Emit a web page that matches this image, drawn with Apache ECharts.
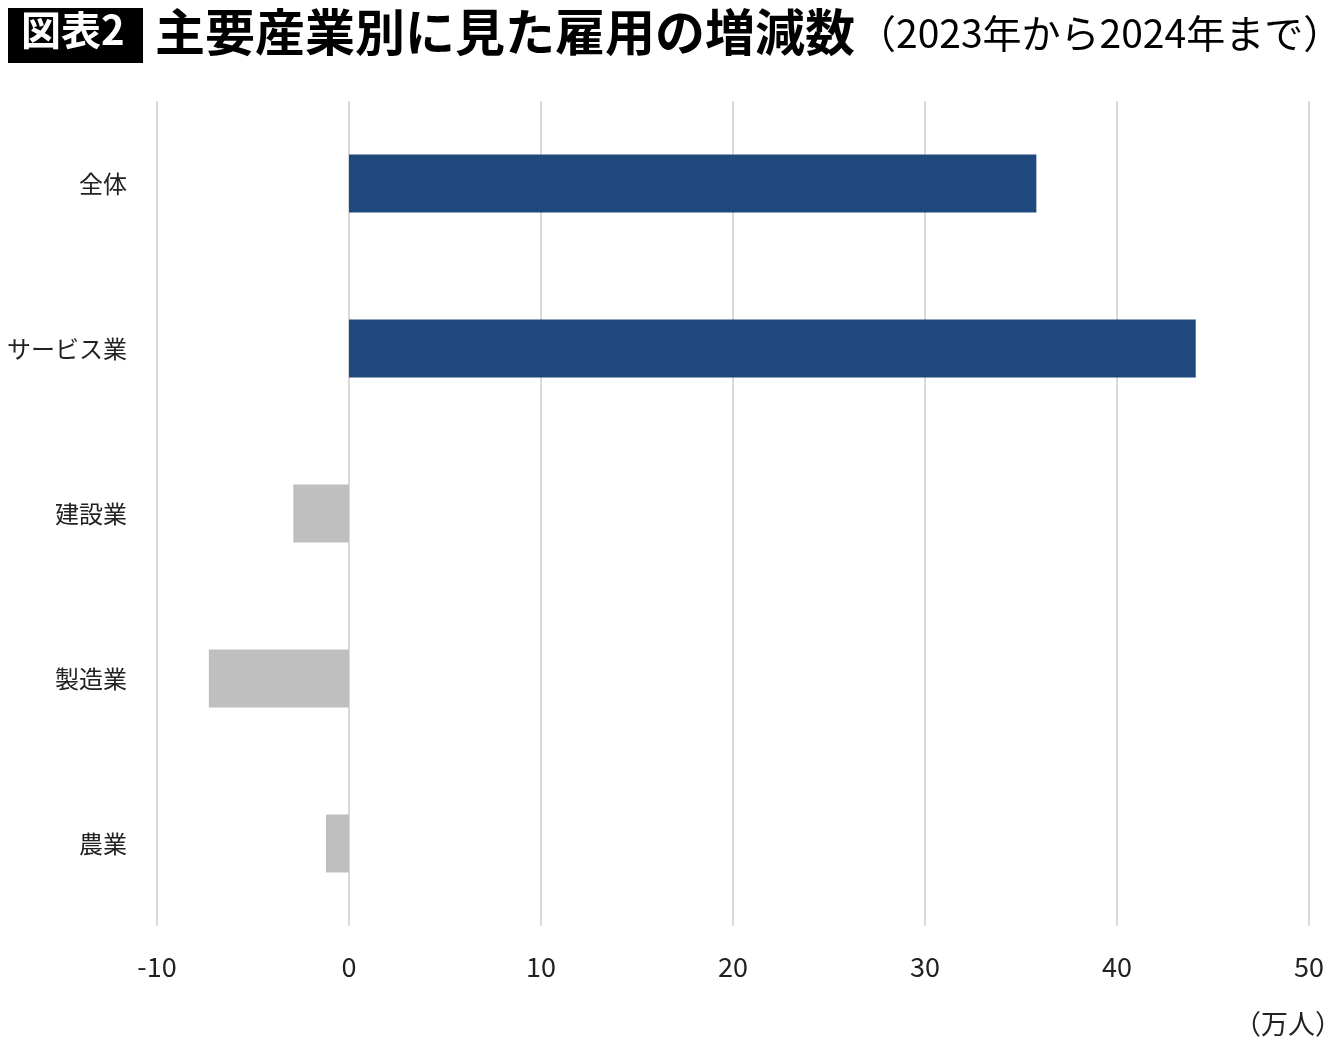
<!DOCTYPE html>
<html>
<head>
<meta charset="utf-8">
<script src="https://cdn.jsdelivr.net/npm/echarts@6/dist/echarts.min.js"></script>
<style>
  html, body { margin: 0; padding: 0; background: #fff; }
  #chart { width: 1340px; height: 1049px; }
</style>
</head>
<body>
<div id="chart"></div>
<script>
// 産業カテゴリ（上から順）
var categories = ['全体', 'サービス業', '建設業', '製造業', '農業'];
// 雇用の増減数（万人）
var changes = [35.8, 44.1, -2.9, -7.3, -1.2];
// x軸目盛り
var xMin = -10, xMax = 50, xStep = 10;

var FONT = '"Noto Sans CJK JP", "Noto Sans", sans-serif';

var myChart = echarts.init(document.getElementById('chart'));

var option = {
    backgroundColor: '#fff',
    animation: false,
    textStyle: { fontFamily: FONT },
    graphic: [
        // 図表2 の黒い箱
        {
            type: 'rect',
            left: 8, top: 8,
            shape: { width: 135, height: 55 },
            style: { fill: '#000' }
        },
        {
            type: 'text',
            left: 21, top: 10,
            style: { text: '図表2', fill: '#fff', font: 'bold 40px ' + FONT }
        },
        {
            type: 'text',
            left: 155, top: 7,
            style: { text: '主要産業別に見た雇用の増減数', fill: '#000', font: 'bold 50px ' + FONT }
        },
        {
            type: 'text',
            left: 857, top: 14,
            style: { text: '（2023年から2024年まで）', fill: '#000', font: '39px ' + FONT }
        },
        // 単位
        {
            type: 'text',
            right: -2, top: 1010,
            style: { text: '（万人）', fill: '#222', font: '27px ' + FONT }
        }
    ],
    grid: {
        left: 157,
        right: 31,
        top: 101,
        bottom: 123,
        containLabel: false,
        outerBoundsMode: 'none'
    },
    xAxis: {
        type: 'value',
        min: xMin,
        max: xMax,
        interval: xStep,
        axisLine: { show: false },
        axisTick: { show: false },
        axisLabel: { color: '#222', fontSize: 27, margin: 27, fontFamily: FONT },
        splitLine: { show: true, lineStyle: { color: '#d9d9d9', width: 2 } }
    },
    yAxis: {
        type: 'category',
        data: categories,
        inverse: true,
        axisLine: { show: false },
        axisTick: { show: false },
        axisLabel: { color: '#222', fontSize: 24, margin: 30, fontFamily: FONT }
    },
    series: [{
        type: 'bar',
        data: changes,
        barWidth: 58,
        itemStyle: {
            // 増加は紺、減少はグレー
            color: function(p) { return p.value >= 0 ? '#1f497d' : '#bfbfbf'; }
        }
    }]
};

myChart.setOption(option);
</script>
</body>
</html>
